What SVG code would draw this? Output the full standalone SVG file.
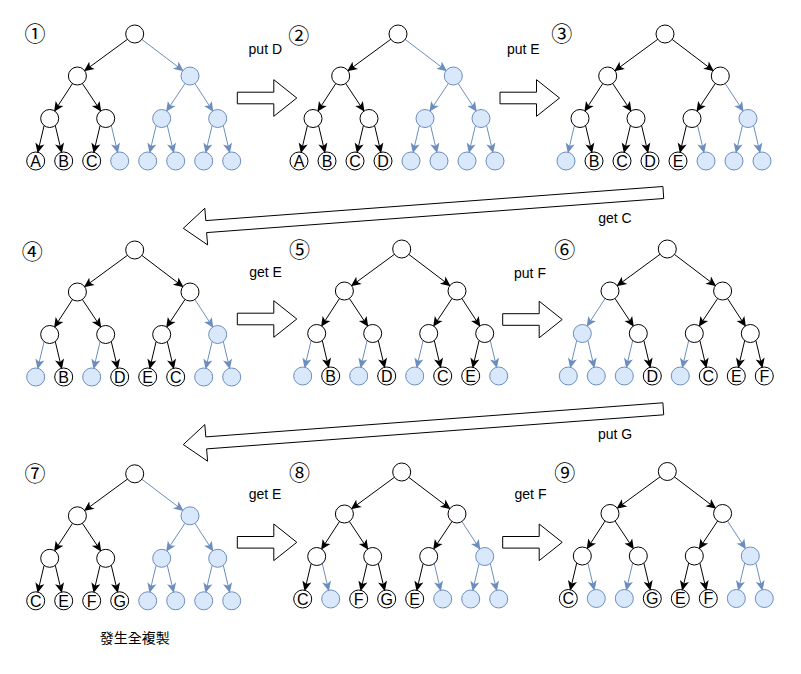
<svg xmlns="http://www.w3.org/2000/svg" width="801" height="674" viewBox="0 0 801 674">
<style>
.k{fill:#fff;stroke:#000;stroke-width:1}
.u{fill:#dae8fc;stroke:#6c8ebf;stroke-width:1}
.ek{stroke:#000;stroke-width:1;fill:none;marker-end:url(#mk)}
.eu{stroke:#6c8ebf;stroke-width:1;fill:none;marker-end:url(#mu)}
.lt{font-family:"Liberation Sans",Arial,sans-serif;font-size:16px;text-anchor:middle;fill:#000}
.lb{font-family:"Liberation Sans",Arial,sans-serif;font-size:14px;text-anchor:middle;fill:#000}
.num{font-family:"Noto Sans CJK JP","DejaVu Sans",sans-serif;font-size:21px;text-anchor:middle;fill:#000}
.cjk{font-family:"Noto Sans CJK TC","Noto Sans CJK SC",sans-serif;font-size:14px;text-anchor:middle;fill:#000}
.blk{fill:#fff;stroke:#000;stroke-width:1}
</style>
<defs>
<marker id="mk" viewBox="-11 -6 12 12" refX="-7" refY="0" markerWidth="12" markerHeight="12" markerUnits="userSpaceOnUse" orient="auto"><path d="M0,0 L-10,-4.6 L-7.5,0 L-10,4.6 Z" fill="#000"/></marker>
<marker id="mu" viewBox="-11 -6 12 12" refX="-7" refY="0" markerWidth="12" markerHeight="12" markerUnits="userSpaceOnUse" orient="auto"><path d="M0,0 L-10,-4.6 L-7.5,0 L-10,4.6 Z" fill="#6c8ebf"/></marker>
</defs>
<rect width="801" height="674" fill="#fff"/>

<g id="transitions">
<polygon class="blk" points="237.3,92.2 273.8,92.2 273.8,79.7 296.8,98 273.8,116.3 273.8,103.8 237.3,103.8"/>
<polygon class="blk" points="500,92.2 536.5,92.2 536.5,79.7 559.5,98 536.5,116.3 536.5,103.8 500,103.8"/>
<polygon class="blk" points="662.9,186.5 205.8,220.6 204.8,208.3 183.3,228.3 207.6,244.9 206.6,232.6 663.7,198.5"/>
<polygon class="blk" points="237.3,313.2 273.8,313.2 273.8,300.7 296.8,319 273.8,337.3 273.8,324.8 237.3,324.8"/>
<polygon class="blk" points="502.7,313.7 539.2,313.7 539.2,301.2 562.2,319.5 539.2,337.8 539.2,325.3 502.7,325.3"/>
<polygon class="blk" points="662.9,402.8 205.8,436.9 204.8,424.6 183.3,444.6 207.6,461.2 206.6,448.9 663.7,414.8"/>
<polygon class="blk" points="237.3,536.5 273.8,536.5 273.8,524 296.8,542.3 273.8,560.6 273.8,548.1 237.3,548.1"/>
<polygon class="blk" points="502.7,536.5 539.2,536.5 539.2,524 562.2,542.3 539.2,560.6 539.2,548.1 502.7,548.1"/>
<text class="lb" x="265.3" y="54">put D</text>
<text class="lb" x="523.3" y="54">put E</text>
<text class="lb" x="615" y="223.3">get C</text>
<text class="lb" x="265.5" y="276.7">get E</text>
<text class="lb" x="530" y="277.5">put F</text>
<text class="lb" x="615" y="439.3">put G</text>
<text class="lb" x="265" y="499">get E</text>
<text class="lb" x="530.5" y="499.3">get F</text>
</g>

<g id="labels">
<text class="num" x="35" y="41">①</text>
<text class="num" x="298.7" y="42.5">②</text>
<text class="num" x="561.7" y="41.3">③</text>
<text class="num" x="32.3" y="259.3">④</text>
<text class="num" x="299.5" y="256.5">⑤</text>
<text class="num" x="564.7" y="256.5">⑥</text>
<text class="num" x="35" y="481.3">⑦</text>
<text class="num" x="299.5" y="480.3">⑧</text>
<text class="num" x="564.7" y="479.5">⑨</text>
<text class="cjk" x="134.7" y="643.3">發生全複製</text>
</g>

<g id="connectors">
<g id="c1" transform="translate(35.7,34)">
<line class="ek" x1="91.74" y1="5.32" x2="53.80" y2="33.13"/><line class="eu" x1="106.17" y1="5.44" x2="142.35" y2="32.93"/>
<line class="ek" x1="36.79" y1="49.54" x2="22.19" y2="71.93"/><line class="ek" x1="46.69" y1="49.49" x2="61.68" y2="72.02"/>
<line class="eu" x1="149.31" y1="49.49" x2="134.32" y2="72.02"/><line class="eu" x1="159.21" y1="49.54" x2="173.81" y2="71.93"/>
<line class="ek" x1="8.4" y1="91.6" x2="3.47" y2="112.4"/><line class="ek" x1="19.6" y1="91.6" x2="24.53" y2="112.4"/>
<line class="ek" x1="64.4" y1="91.6" x2="59.47" y2="112.4"/><line class="eu" x1="75.6" y1="91.6" x2="80.53" y2="112.4"/>
<line class="eu" x1="120.4" y1="91.6" x2="115.47" y2="112.4"/><line class="eu" x1="131.6" y1="91.6" x2="136.53" y2="112.4"/>
<line class="eu" x1="176.4" y1="91.6" x2="171.47" y2="112.4"/><line class="eu" x1="187.6" y1="91.6" x2="192.53" y2="112.4"/>
</g>
<g id="c2" transform="translate(299,34)">
<line class="ek" x1="91.74" y1="5.32" x2="53.80" y2="33.13"/><line class="eu" x1="106.17" y1="5.44" x2="142.35" y2="32.93"/>
<line class="ek" x1="36.79" y1="49.54" x2="22.19" y2="71.93"/><line class="ek" x1="46.69" y1="49.49" x2="61.68" y2="72.02"/>
<line class="eu" x1="149.31" y1="49.49" x2="134.32" y2="72.02"/><line class="eu" x1="159.21" y1="49.54" x2="173.81" y2="71.93"/>
<line class="ek" x1="8.4" y1="91.6" x2="3.47" y2="112.4"/><line class="ek" x1="19.6" y1="91.6" x2="24.53" y2="112.4"/>
<line class="ek" x1="64.4" y1="91.6" x2="59.47" y2="112.4"/><line class="ek" x1="75.6" y1="91.6" x2="80.53" y2="112.4"/>
<line class="eu" x1="120.4" y1="91.6" x2="115.47" y2="112.4"/><line class="eu" x1="131.6" y1="91.6" x2="136.53" y2="112.4"/>
<line class="eu" x1="176.4" y1="91.6" x2="171.47" y2="112.4"/><line class="eu" x1="187.6" y1="91.6" x2="192.53" y2="112.4"/>
</g>
<g id="c3" transform="translate(566,34)">
<line class="ek" x1="91.74" y1="5.32" x2="53.80" y2="33.13"/><line class="ek" x1="106.17" y1="5.44" x2="142.35" y2="32.93"/>
<line class="ek" x1="36.79" y1="49.54" x2="22.19" y2="71.93"/><line class="ek" x1="46.69" y1="49.49" x2="61.68" y2="72.02"/>
<line class="ek" x1="149.31" y1="49.49" x2="134.32" y2="72.02"/><line class="eu" x1="159.21" y1="49.54" x2="173.81" y2="71.93"/>
<line class="eu" x1="8.4" y1="91.6" x2="3.47" y2="112.4"/><line class="ek" x1="19.6" y1="91.6" x2="24.53" y2="112.4"/>
<line class="ek" x1="64.4" y1="91.6" x2="59.47" y2="112.4"/><line class="ek" x1="75.6" y1="91.6" x2="80.53" y2="112.4"/>
<line class="ek" x1="120.4" y1="91.6" x2="115.47" y2="112.4"/><line class="eu" x1="131.6" y1="91.6" x2="136.53" y2="112.4"/>
<line class="eu" x1="176.4" y1="91.6" x2="171.47" y2="112.4"/><line class="eu" x1="187.6" y1="91.6" x2="192.53" y2="112.4"/>
</g>
<g id="c4" transform="translate(35.7,250)">
<line class="ek" x1="91.74" y1="5.32" x2="53.80" y2="33.13"/><line class="ek" x1="106.17" y1="5.44" x2="142.35" y2="32.93"/>
<line class="ek" x1="36.79" y1="49.54" x2="22.19" y2="71.93"/><line class="ek" x1="46.69" y1="49.49" x2="61.68" y2="72.02"/>
<line class="ek" x1="149.31" y1="49.49" x2="134.32" y2="72.02"/><line class="eu" x1="159.21" y1="49.54" x2="173.81" y2="71.93"/>
<line class="eu" x1="8.4" y1="91.6" x2="3.47" y2="112.4"/><line class="ek" x1="19.6" y1="91.6" x2="24.53" y2="112.4"/>
<line class="eu" x1="64.4" y1="91.6" x2="59.47" y2="112.4"/><line class="ek" x1="75.6" y1="91.6" x2="80.53" y2="112.4"/>
<line class="ek" x1="120.4" y1="91.6" x2="115.47" y2="112.4"/><line class="ek" x1="131.6" y1="91.6" x2="136.53" y2="112.4"/>
<line class="eu" x1="176.4" y1="91.6" x2="171.47" y2="112.4"/><line class="eu" x1="187.6" y1="91.6" x2="192.53" y2="112.4"/>
</g>
<g id="c5" transform="translate(302.7,249)">
<line class="ek" x1="91.74" y1="5.32" x2="53.80" y2="33.13"/><line class="ek" x1="106.17" y1="5.44" x2="142.35" y2="32.93"/>
<line class="ek" x1="36.79" y1="49.54" x2="22.19" y2="71.93"/><line class="ek" x1="46.69" y1="49.49" x2="61.68" y2="72.02"/>
<line class="ek" x1="149.31" y1="49.49" x2="134.32" y2="72.02"/><line class="ek" x1="159.21" y1="49.54" x2="173.81" y2="71.93"/>
<line class="eu" x1="8.4" y1="91.6" x2="3.47" y2="112.4"/><line class="ek" x1="19.6" y1="91.6" x2="24.53" y2="112.4"/>
<line class="eu" x1="64.4" y1="91.6" x2="59.47" y2="112.4"/><line class="ek" x1="75.6" y1="91.6" x2="80.53" y2="112.4"/>
<line class="eu" x1="120.4" y1="91.6" x2="115.47" y2="112.4"/><line class="ek" x1="131.6" y1="91.6" x2="136.53" y2="112.4"/>
<line class="ek" x1="176.4" y1="91.6" x2="171.47" y2="112.4"/><line class="eu" x1="187.6" y1="91.6" x2="192.53" y2="112.4"/>
</g>
<g id="c6" transform="translate(568.3,249)">
<line class="ek" x1="91.74" y1="5.32" x2="53.80" y2="33.13"/><line class="ek" x1="106.17" y1="5.44" x2="142.35" y2="32.93"/>
<line class="eu" x1="36.79" y1="49.54" x2="22.19" y2="71.93"/><line class="ek" x1="46.69" y1="49.49" x2="61.68" y2="72.02"/>
<line class="ek" x1="149.31" y1="49.49" x2="134.32" y2="72.02"/><line class="ek" x1="159.21" y1="49.54" x2="173.81" y2="71.93"/>
<line class="eu" x1="8.4" y1="91.6" x2="3.47" y2="112.4"/><line class="eu" x1="19.6" y1="91.6" x2="24.53" y2="112.4"/>
<line class="eu" x1="64.4" y1="91.6" x2="59.47" y2="112.4"/><line class="ek" x1="75.6" y1="91.6" x2="80.53" y2="112.4"/>
<line class="eu" x1="120.4" y1="91.6" x2="115.47" y2="112.4"/><line class="ek" x1="131.6" y1="91.6" x2="136.53" y2="112.4"/>
<line class="ek" x1="176.4" y1="91.6" x2="171.47" y2="112.4"/><line class="ek" x1="187.6" y1="91.6" x2="192.53" y2="112.4"/>
</g>
<g id="c7" transform="translate(35.7,473.8)">
<line class="ek" x1="91.74" y1="5.32" x2="53.80" y2="33.13"/><line class="eu" x1="106.17" y1="5.44" x2="142.35" y2="32.93"/>
<line class="ek" x1="36.79" y1="49.54" x2="22.19" y2="71.93"/><line class="ek" x1="46.69" y1="49.49" x2="61.68" y2="72.02"/>
<line class="eu" x1="149.31" y1="49.49" x2="134.32" y2="72.02"/><line class="eu" x1="159.21" y1="49.54" x2="173.81" y2="71.93"/>
<line class="ek" x1="8.4" y1="91.6" x2="3.47" y2="112.4"/><line class="ek" x1="19.6" y1="91.6" x2="24.53" y2="112.4"/>
<line class="ek" x1="64.4" y1="91.6" x2="59.47" y2="112.4"/><line class="ek" x1="75.6" y1="91.6" x2="80.53" y2="112.4"/>
<line class="eu" x1="120.4" y1="91.6" x2="115.47" y2="112.4"/><line class="eu" x1="131.6" y1="91.6" x2="136.53" y2="112.4"/>
<line class="eu" x1="176.4" y1="91.6" x2="171.47" y2="112.4"/><line class="eu" x1="187.6" y1="91.6" x2="192.53" y2="112.4"/>
</g>
<g id="c8" transform="translate(302.7,472)">
<line class="ek" x1="91.74" y1="5.32" x2="53.80" y2="33.13"/><line class="ek" x1="106.17" y1="5.44" x2="142.35" y2="32.93"/>
<line class="ek" x1="36.79" y1="49.54" x2="22.19" y2="71.93"/><line class="ek" x1="46.69" y1="49.49" x2="61.68" y2="72.02"/>
<line class="ek" x1="149.31" y1="49.49" x2="134.32" y2="72.02"/><line class="eu" x1="159.21" y1="49.54" x2="173.81" y2="71.93"/>
<line class="ek" x1="8.4" y1="91.6" x2="3.47" y2="112.4"/><line class="eu" x1="19.6" y1="91.6" x2="24.53" y2="112.4"/>
<line class="ek" x1="64.4" y1="91.6" x2="59.47" y2="112.4"/><line class="ek" x1="75.6" y1="91.6" x2="80.53" y2="112.4"/>
<line class="ek" x1="120.4" y1="91.6" x2="115.47" y2="112.4"/><line class="eu" x1="131.6" y1="91.6" x2="136.53" y2="112.4"/>
<line class="eu" x1="176.4" y1="91.6" x2="171.47" y2="112.4"/><line class="eu" x1="187.6" y1="91.6" x2="192.53" y2="112.4"/>
</g>
<g id="c9" transform="translate(568.3,471.5)">
<line class="ek" x1="91.74" y1="5.32" x2="53.80" y2="33.13"/><line class="ek" x1="106.17" y1="5.44" x2="142.35" y2="32.93"/>
<line class="ek" x1="36.79" y1="49.54" x2="22.19" y2="71.93"/><line class="ek" x1="46.69" y1="49.49" x2="61.68" y2="72.02"/>
<line class="ek" x1="149.31" y1="49.49" x2="134.32" y2="72.02"/><line class="eu" x1="159.21" y1="49.54" x2="173.81" y2="71.93"/>
<line class="ek" x1="8.4" y1="91.6" x2="3.47" y2="112.4"/><line class="eu" x1="19.6" y1="91.6" x2="24.53" y2="112.4"/>
<line class="eu" x1="64.4" y1="91.6" x2="59.47" y2="112.4"/><line class="ek" x1="75.6" y1="91.6" x2="80.53" y2="112.4"/>
<line class="ek" x1="120.4" y1="91.6" x2="115.47" y2="112.4"/><line class="ek" x1="131.6" y1="91.6" x2="136.53" y2="112.4"/>
<line class="eu" x1="176.4" y1="91.6" x2="171.47" y2="112.4"/><line class="eu" x1="187.6" y1="91.6" x2="192.53" y2="112.4"/>
</g>
</g>

<g id="tree1" transform="translate(35.7,34)">
<g id="t1-r"><circle class="k" cx="99" cy="0" r="9"/></g>
<g id="t1-a"><circle class="k" cx="41.7" cy="42" r="9"/></g>
<g id="t1-b"><circle class="u" cx="154.3" cy="42" r="9"/></g>
<g id="t1-a1"><circle class="k" cx="14" cy="84.5" r="9"/></g>
<g id="t1-a2"><circle class="k" cx="70" cy="84.5" r="9"/></g>
<g id="t1-b1"><circle class="u" cx="126" cy="84.5" r="9"/></g>
<g id="t1-b2"><circle class="u" cx="182" cy="84.5" r="9"/></g>
<g id="t1-l0"><circle class="k" cx="0" cy="127" r="9"/><text class="lt" x="0" y="132.8">A</text></g>
<g id="t1-l1"><circle class="k" cx="28" cy="127" r="9"/><text class="lt" x="28" y="132.8">B</text></g>
<g id="t1-l2"><circle class="k" cx="56" cy="127" r="9"/><text class="lt" x="56" y="132.8">C</text></g>
<g id="t1-l3"><circle class="u" cx="84" cy="127" r="9"/></g>
<g id="t1-l4"><circle class="u" cx="112" cy="127" r="9"/></g>
<g id="t1-l5"><circle class="u" cx="140" cy="127" r="9"/></g>
<g id="t1-l6"><circle class="u" cx="168" cy="127" r="9"/></g>
<g id="t1-l7"><circle class="u" cx="196" cy="127" r="9"/></g>
</g>

<g id="tree2" transform="translate(299,34)">
<g id="t2-r"><circle class="k" cx="99" cy="0" r="9"/></g>
<g id="t2-a"><circle class="k" cx="41.7" cy="42" r="9"/></g>
<g id="t2-b"><circle class="u" cx="154.3" cy="42" r="9"/></g>
<g id="t2-a1"><circle class="k" cx="14" cy="84.5" r="9"/></g>
<g id="t2-a2"><circle class="k" cx="70" cy="84.5" r="9"/></g>
<g id="t2-b1"><circle class="u" cx="126" cy="84.5" r="9"/></g>
<g id="t2-b2"><circle class="u" cx="182" cy="84.5" r="9"/></g>
<g id="t2-l0"><circle class="k" cx="0" cy="127" r="9"/><text class="lt" x="0" y="132.8">A</text></g>
<g id="t2-l1"><circle class="k" cx="28" cy="127" r="9"/><text class="lt" x="28" y="132.8">B</text></g>
<g id="t2-l2"><circle class="k" cx="56" cy="127" r="9"/><text class="lt" x="56" y="132.8">C</text></g>
<g id="t2-l3"><circle class="k" cx="84" cy="127" r="9"/><text class="lt" x="84" y="132.8">D</text></g>
<g id="t2-l4"><circle class="u" cx="112" cy="127" r="9"/></g>
<g id="t2-l5"><circle class="u" cx="140" cy="127" r="9"/></g>
<g id="t2-l6"><circle class="u" cx="168" cy="127" r="9"/></g>
<g id="t2-l7"><circle class="u" cx="196" cy="127" r="9"/></g>
</g>

<g id="tree3" transform="translate(566,34)">
<g id="t3-r"><circle class="k" cx="99" cy="0" r="9"/></g>
<g id="t3-a"><circle class="k" cx="41.7" cy="42" r="9"/></g>
<g id="t3-b"><circle class="k" cx="154.3" cy="42" r="9"/></g>
<g id="t3-a1"><circle class="k" cx="14" cy="84.5" r="9"/></g>
<g id="t3-a2"><circle class="k" cx="70" cy="84.5" r="9"/></g>
<g id="t3-b1"><circle class="k" cx="126" cy="84.5" r="9"/></g>
<g id="t3-b2"><circle class="u" cx="182" cy="84.5" r="9"/></g>
<g id="t3-l0"><circle class="u" cx="0" cy="127" r="9"/></g>
<g id="t3-l1"><circle class="k" cx="28" cy="127" r="9"/><text class="lt" x="28" y="132.8">B</text></g>
<g id="t3-l2"><circle class="k" cx="56" cy="127" r="9"/><text class="lt" x="56" y="132.8">C</text></g>
<g id="t3-l3"><circle class="k" cx="84" cy="127" r="9"/><text class="lt" x="84" y="132.8">D</text></g>
<g id="t3-l4"><circle class="k" cx="112" cy="127" r="9"/><text class="lt" x="112" y="132.8">E</text></g>
<g id="t3-l5"><circle class="u" cx="140" cy="127" r="9"/></g>
<g id="t3-l6"><circle class="u" cx="168" cy="127" r="9"/></g>
<g id="t3-l7"><circle class="u" cx="196" cy="127" r="9"/></g>
</g>

<g id="tree4" transform="translate(35.7,250)">
<g id="t4-r"><circle class="k" cx="99" cy="0" r="9"/></g>
<g id="t4-a"><circle class="k" cx="41.7" cy="42" r="9"/></g>
<g id="t4-b"><circle class="k" cx="154.3" cy="42" r="9"/></g>
<g id="t4-a1"><circle class="k" cx="14" cy="84.5" r="9"/></g>
<g id="t4-a2"><circle class="k" cx="70" cy="84.5" r="9"/></g>
<g id="t4-b1"><circle class="k" cx="126" cy="84.5" r="9"/></g>
<g id="t4-b2"><circle class="u" cx="182" cy="84.5" r="9"/></g>
<g id="t4-l0"><circle class="u" cx="0" cy="127" r="9"/></g>
<g id="t4-l1"><circle class="k" cx="28" cy="127" r="9"/><text class="lt" x="28" y="132.8">B</text></g>
<g id="t4-l2"><circle class="u" cx="56" cy="127" r="9"/></g>
<g id="t4-l3"><circle class="k" cx="84" cy="127" r="9"/><text class="lt" x="84" y="132.8">D</text></g>
<g id="t4-l4"><circle class="k" cx="112" cy="127" r="9"/><text class="lt" x="112" y="132.8">E</text></g>
<g id="t4-l5"><circle class="k" cx="140" cy="127" r="9"/><text class="lt" x="140" y="132.8">C</text></g>
<g id="t4-l6"><circle class="u" cx="168" cy="127" r="9"/></g>
<g id="t4-l7"><circle class="u" cx="196" cy="127" r="9"/></g>
</g>

<g id="tree5" transform="translate(302.7,249)">
<g id="t5-r"><circle class="k" cx="99" cy="0" r="9"/></g>
<g id="t5-a"><circle class="k" cx="41.7" cy="42" r="9"/></g>
<g id="t5-b"><circle class="k" cx="154.3" cy="42" r="9"/></g>
<g id="t5-a1"><circle class="k" cx="14" cy="84.5" r="9"/></g>
<g id="t5-a2"><circle class="k" cx="70" cy="84.5" r="9"/></g>
<g id="t5-b1"><circle class="k" cx="126" cy="84.5" r="9"/></g>
<g id="t5-b2"><circle class="k" cx="182" cy="84.5" r="9"/></g>
<g id="t5-l0"><circle class="u" cx="0" cy="127" r="9"/></g>
<g id="t5-l1"><circle class="k" cx="28" cy="127" r="9"/><text class="lt" x="28" y="132.8">B</text></g>
<g id="t5-l2"><circle class="u" cx="56" cy="127" r="9"/></g>
<g id="t5-l3"><circle class="k" cx="84" cy="127" r="9"/><text class="lt" x="84" y="132.8">D</text></g>
<g id="t5-l4"><circle class="u" cx="112" cy="127" r="9"/></g>
<g id="t5-l5"><circle class="k" cx="140" cy="127" r="9"/><text class="lt" x="140" y="132.8">C</text></g>
<g id="t5-l6"><circle class="k" cx="168" cy="127" r="9"/><text class="lt" x="168" y="132.8">E</text></g>
<g id="t5-l7"><circle class="u" cx="196" cy="127" r="9"/></g>
</g>

<g id="tree6" transform="translate(568.3,249)">
<g id="t6-r"><circle class="k" cx="99" cy="0" r="9"/></g>
<g id="t6-a"><circle class="k" cx="41.7" cy="42" r="9"/></g>
<g id="t6-b"><circle class="k" cx="154.3" cy="42" r="9"/></g>
<g id="t6-a1"><circle class="u" cx="14" cy="84.5" r="9"/></g>
<g id="t6-a2"><circle class="k" cx="70" cy="84.5" r="9"/></g>
<g id="t6-b1"><circle class="k" cx="126" cy="84.5" r="9"/></g>
<g id="t6-b2"><circle class="k" cx="182" cy="84.5" r="9"/></g>
<g id="t6-l0"><circle class="u" cx="0" cy="127" r="9"/></g>
<g id="t6-l1"><circle class="u" cx="28" cy="127" r="9"/></g>
<g id="t6-l2"><circle class="u" cx="56" cy="127" r="9"/></g>
<g id="t6-l3"><circle class="k" cx="84" cy="127" r="9"/><text class="lt" x="84" y="132.8">D</text></g>
<g id="t6-l4"><circle class="u" cx="112" cy="127" r="9"/></g>
<g id="t6-l5"><circle class="k" cx="140" cy="127" r="9"/><text class="lt" x="140" y="132.8">C</text></g>
<g id="t6-l6"><circle class="k" cx="168" cy="127" r="9"/><text class="lt" x="168" y="132.8">E</text></g>
<g id="t6-l7"><circle class="k" cx="196" cy="127" r="9"/><text class="lt" x="196" y="132.8">F</text></g>
</g>

<g id="tree7" transform="translate(35.7,473.8)">
<g id="t7-r"><circle class="k" cx="99" cy="0" r="9"/></g>
<g id="t7-a"><circle class="k" cx="41.7" cy="42" r="9"/></g>
<g id="t7-b"><circle class="u" cx="154.3" cy="42" r="9"/></g>
<g id="t7-a1"><circle class="k" cx="14" cy="84.5" r="9"/></g>
<g id="t7-a2"><circle class="k" cx="70" cy="84.5" r="9"/></g>
<g id="t7-b1"><circle class="u" cx="126" cy="84.5" r="9"/></g>
<g id="t7-b2"><circle class="u" cx="182" cy="84.5" r="9"/></g>
<g id="t7-l0"><circle class="k" cx="0" cy="127" r="9"/><text class="lt" x="0" y="132.8">C</text></g>
<g id="t7-l1"><circle class="k" cx="28" cy="127" r="9"/><text class="lt" x="28" y="132.8">E</text></g>
<g id="t7-l2"><circle class="k" cx="56" cy="127" r="9"/><text class="lt" x="56" y="132.8">F</text></g>
<g id="t7-l3"><circle class="k" cx="84" cy="127" r="9"/><text class="lt" x="84" y="132.8">G</text></g>
<g id="t7-l4"><circle class="u" cx="112" cy="127" r="9"/></g>
<g id="t7-l5"><circle class="u" cx="140" cy="127" r="9"/></g>
<g id="t7-l6"><circle class="u" cx="168" cy="127" r="9"/></g>
<g id="t7-l7"><circle class="u" cx="196" cy="127" r="9"/></g>
</g>

<g id="tree8" transform="translate(302.7,472)">
<g id="t8-r"><circle class="k" cx="99" cy="0" r="9"/></g>
<g id="t8-a"><circle class="k" cx="41.7" cy="42" r="9"/></g>
<g id="t8-b"><circle class="k" cx="154.3" cy="42" r="9"/></g>
<g id="t8-a1"><circle class="k" cx="14" cy="84.5" r="9"/></g>
<g id="t8-a2"><circle class="k" cx="70" cy="84.5" r="9"/></g>
<g id="t8-b1"><circle class="k" cx="126" cy="84.5" r="9"/></g>
<g id="t8-b2"><circle class="u" cx="182" cy="84.5" r="9"/></g>
<g id="t8-l0"><circle class="k" cx="0" cy="127" r="9"/><text class="lt" x="0" y="132.8">C</text></g>
<g id="t8-l1"><circle class="u" cx="28" cy="127" r="9"/></g>
<g id="t8-l2"><circle class="k" cx="56" cy="127" r="9"/><text class="lt" x="56" y="132.8">F</text></g>
<g id="t8-l3"><circle class="k" cx="84" cy="127" r="9"/><text class="lt" x="84" y="132.8">G</text></g>
<g id="t8-l4"><circle class="k" cx="112" cy="127" r="9"/><text class="lt" x="112" y="132.8">E</text></g>
<g id="t8-l5"><circle class="u" cx="140" cy="127" r="9"/></g>
<g id="t8-l6"><circle class="u" cx="168" cy="127" r="9"/></g>
<g id="t8-l7"><circle class="u" cx="196" cy="127" r="9"/></g>
</g>

<g id="tree9" transform="translate(568.3,471.5)">
<g id="t9-r"><circle class="k" cx="99" cy="0" r="9"/></g>
<g id="t9-a"><circle class="k" cx="41.7" cy="42" r="9"/></g>
<g id="t9-b"><circle class="k" cx="154.3" cy="42" r="9"/></g>
<g id="t9-a1"><circle class="k" cx="14" cy="84.5" r="9"/></g>
<g id="t9-a2"><circle class="k" cx="70" cy="84.5" r="9"/></g>
<g id="t9-b1"><circle class="k" cx="126" cy="84.5" r="9"/></g>
<g id="t9-b2"><circle class="u" cx="182" cy="84.5" r="9"/></g>
<g id="t9-l0"><circle class="k" cx="0" cy="127" r="9"/><text class="lt" x="0" y="132.8">C</text></g>
<g id="t9-l1"><circle class="u" cx="28" cy="127" r="9"/></g>
<g id="t9-l2"><circle class="u" cx="56" cy="127" r="9"/></g>
<g id="t9-l3"><circle class="k" cx="84" cy="127" r="9"/><text class="lt" x="84" y="132.8">G</text></g>
<g id="t9-l4"><circle class="k" cx="112" cy="127" r="9"/><text class="lt" x="112" y="132.8">E</text></g>
<g id="t9-l5"><circle class="k" cx="140" cy="127" r="9"/><text class="lt" x="140" y="132.8">F</text></g>
<g id="t9-l6"><circle class="u" cx="168" cy="127" r="9"/></g>
<g id="t9-l7"><circle class="u" cx="196" cy="127" r="9"/></g>
</g>
</svg>
